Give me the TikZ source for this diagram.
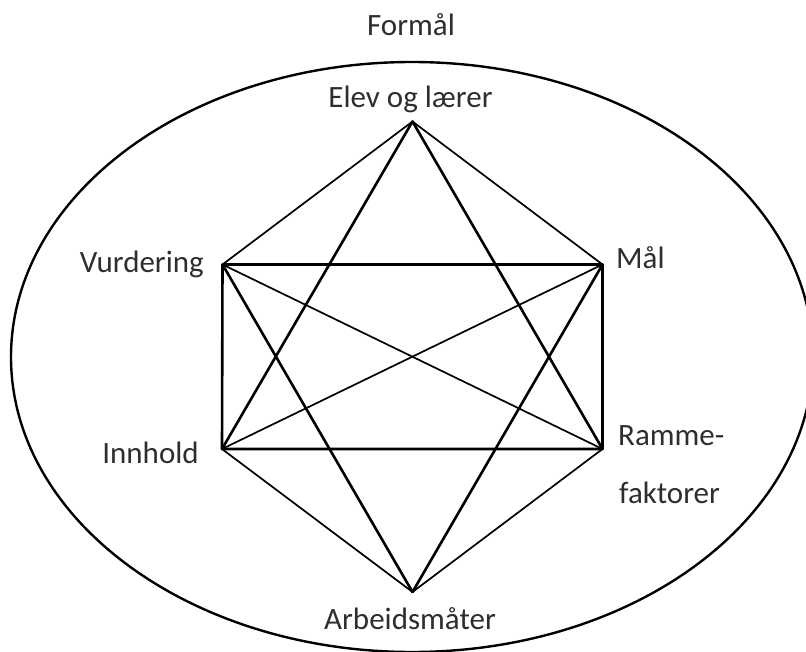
\documentclass[tikz,border=0pt]{standalone}
\usepackage{fontspec}
\setmainfont{Carlito}
\begin{document}
\begin{tikzpicture}[x=1pt,y=-1pt,
  thickline/.style={line width=2.6pt, line cap=round, line join=round},
  thinline/.style={line width=1.7pt, line cap=round},
  lbl/.style={inner sep=0pt, font=\fontsize{31}{36}\selectfont, text=black!82}]
\useasboundingbox (0,0) rectangle (806,652);
\clip (0,0) rectangle (806,652);
% vertices
\coordinate (T) at (412.5,121.5);
\coordinate (V) at (222.5,264.5);
\coordinate (M) at (602.5,264.5);
\coordinate (I) at (222,449);
\coordinate (R) at (602.5,449);
\coordinate (B) at (412.5,592);
% ellipse
\draw[line width=2.4pt] (412,357) ellipse [x radius=401, y radius=295];
% thin lines
\draw[thinline] (T) -- (V);
\draw[thinline] (T) -- (M);
\draw[thinline] (I) -- (B);
\draw[thinline] (R) -- (B);
\draw[thinline] (V) -- (R);
\draw[thinline] (M) -- (I);
% thick lines
\draw[thickline] (V) -- (M) -- (R) -- (I) -- cycle;
\draw[thickline] (T) -- (I);
\draw[thickline] (T) -- (R);
\draw[thickline] (V) -- (B);
\draw[thickline] (M) -- (B);
% labels
\node[lbl, anchor=base] (formal) at (411,36) {Formål};
\node[lbl, anchor=base] (elev) at (410.5,108) {Elev og lærer};
\node[lbl, anchor=base east] (vurd) at (204,273) {Vurdering};
\node[lbl, anchor=base east] (innh) at (199,463) {Innhold};
\node[lbl, anchor=base west] (maal) at (616,269) {Mål};
\node[lbl, anchor=base west] (ramme) at (618,445) {Ramme-};
\node[lbl, anchor=base west] (fakt) at (619,503) {faktorer};
\node[lbl, anchor=base] (arb) at (410,629) {Arbeidsmåter};
\end{tikzpicture}
\end{document}
